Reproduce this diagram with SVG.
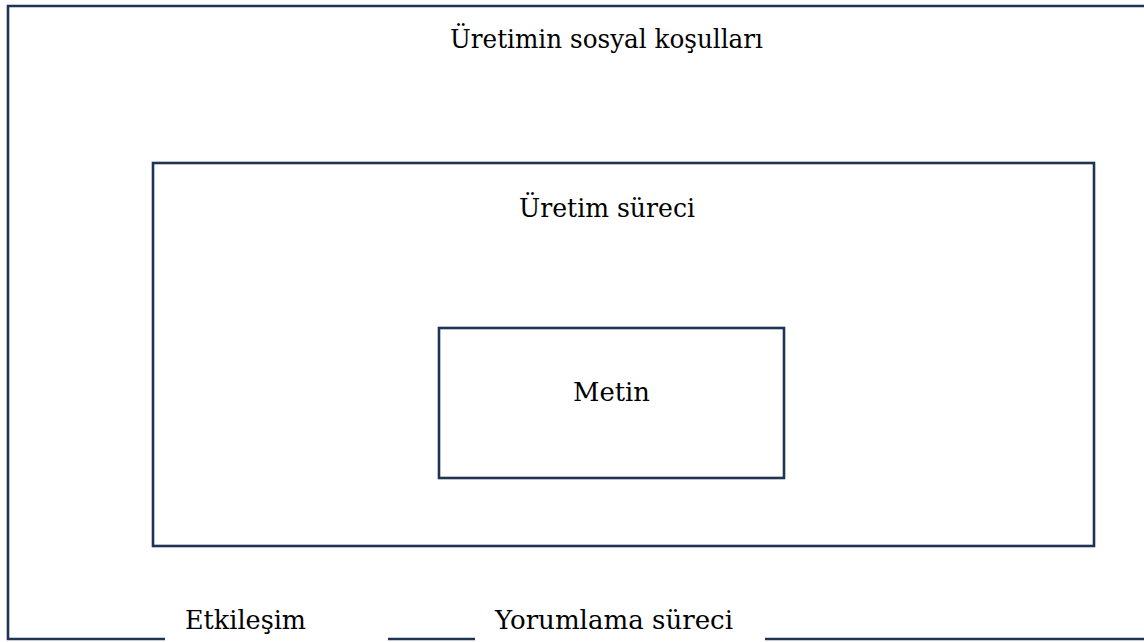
<svg xmlns="http://www.w3.org/2000/svg" width="1144" height="642" viewBox="0 0 1144 642">
<style>
.box{fill:none;stroke:#1f3352;stroke-width:2.6}
.ln{stroke:#1f3352;stroke-width:2.6;fill:none}
.t{font-family:"DejaVu Serif","Liberation Serif",serif;font-size:26px;fill:#000;text-anchor:middle}
</style>
<rect width="1144" height="642" fill="#fff"/>
<g id="outer">
<path class="ln" d="M1144 6 H8 V639 H165"/>
<text class="t" x="606.5" y="48" textLength="313" lengthAdjust="spacingAndGlyphs">Üretimin sosyal koşulları</text>
</g>
<g id="inner">
<rect class="box" x="153" y="163" width="941" height="383"/>
<text class="t" x="607" y="217" textLength="176" lengthAdjust="spacingAndGlyphs">Üretim süreci</text>
</g>
<g id="metin">
<rect class="box" x="439" y="328" width="345" height="150"/>
<text class="t" x="611.5" y="401" textLength="77" lengthAdjust="spacingAndGlyphs">Metin</text>
</g>
<g id="connectors">
<path class="ln" d="M388 639 H475"/>
<path class="ln" d="M765 639 H1144"/>
</g>
<g id="etkilesim">
<text class="t" x="245.5" y="629" textLength="121" lengthAdjust="spacingAndGlyphs">Etkileşim</text>
</g>
<g id="yorumlama">
<text class="t" x="614" y="629" textLength="238" lengthAdjust="spacingAndGlyphs">Yorumlama süreci</text>
</g>
</svg>
